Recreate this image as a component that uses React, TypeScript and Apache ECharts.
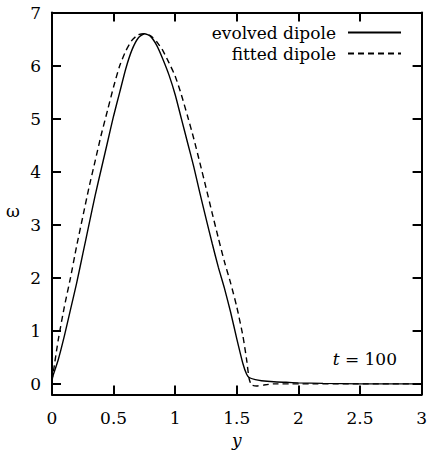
import React, { useEffect, useRef } from "react";
import * as echarts from "echarts";

const xTicks = [0, 0.5, 1, 1.5, 2, 2.5, 3];
const yTicks = [0, 1, 2, 3, 4, 5, 6, 7];

const evolvedX = [0, 0.05, 0.1, 0.15, 0.2, 0.25, 0.3, 0.35, 0.4, 0.45, 0.5, 0.55, 0.6, 0.65, 0.7, 0.75, 0.8, 0.85, 0.9, 0.95, 1.0, 1.05, 1.1, 1.15, 1.2, 1.25, 1.3, 1.35, 1.4, 1.45, 1.5, 1.55, 1.58, 1.6, 1.65, 1.7, 1.8, 1.9, 2.0, 2.2, 2.5, 3.0];
const evolvedW = [0.1, 0.45, 0.9, 1.4, 1.9, 2.45, 3.0, 3.55, 4.05, 4.55, 5.05, 5.5, 5.95, 6.3, 6.52, 6.6, 6.55, 6.38, 6.12, 5.82, 5.45, 5.0, 4.55, 4.1, 3.6, 3.12, 2.65, 2.2, 1.8, 1.35, 0.85, 0.38, 0.18, 0.12, 0.08, 0.06, 0.04, 0.03, 0.02, 0.01, 0.0, 0.0];

const fittedX = [0, 0.05, 0.1, 0.15, 0.2, 0.25, 0.3, 0.35, 0.4, 0.45, 0.5, 0.55, 0.6, 0.65, 0.7, 0.75, 0.8, 0.85, 0.9, 0.95, 1.0, 1.05, 1.1, 1.15, 1.2, 1.25, 1.3, 1.35, 1.4, 1.45, 1.5, 1.55, 1.58, 1.6, 1.62, 1.66, 1.72, 1.8, 3.0];
const fittedW = [0.05, 0.82, 1.45, 2.0, 2.6, 3.15, 3.7, 4.2, 4.7, 5.15, 5.6, 6.0, 6.28, 6.48, 6.58, 6.6, 6.56, 6.45, 6.28, 6.05, 5.8, 5.45, 5.05, 4.63, 4.17, 3.7, 3.22, 2.75, 2.3, 1.9, 1.45, 0.9, 0.45, 0.1, -0.02, -0.04, -0.02, 0.0, 0.0];

const FONT = "DejaVu Serif";

export default function App() {
  const ref = useRef<HTMLDivElement>(null);
  useEffect(() => {
    if (!ref.current) return;
    const chart = echarts.init(ref.current, null, { renderer: "svg" });
    const axisLine = { show: true, onZero: false, lineStyle: { color: "#000", width: 2 } };
    const tick = { inside: true, length: 9, lineStyle: { color: "#000", width: 2 } };
    const label = { fontFamily: FONT, fontSize: 17, color: "#000" };
    const option: any = {
      animation: false,
      backgroundColor: "#fff",
      grid: { left: 52, right: 6, top: 12.5, bottom: 63.5 },
      legend: {
        data: ["evolved dipole", "fitted dipole"],
        orient: "vertical",
        right: 23,
        top: 19,
        align: "right",
        itemWidth: 53,
        itemHeight: 12,
        itemGap: 4,
        itemStyle: { opacity: 0 },
        textStyle: { ...label, padding: [0, 7, 0, 0] },
      },
      xAxis: [
        {
          type: "value", min: 0, max: 3, interval: 0.5, position: "bottom",
          axisLine, axisTick: tick, splitLine: { show: false },
          axisLabel: { ...label, margin: 15, customValues: xTicks },
          name: "y", nameLocation: "middle", nameGap: 37,
          nameTextStyle: { ...label, fontStyle: "italic" },
        },
        {
          type: "value", min: 0, max: 3, interval: 0.5, position: "top",
          axisLine, axisTick: tick, splitLine: { show: false },
          axisLabel: { show: false },
        },
      ],
      yAxis: [
        {
          type: "value", min: -0.2, max: 7, position: "left",
          axisLine, axisTick: { ...tick, customValues: yTicks }, splitLine: { show: false },
          axisLabel: { ...label, margin: 11, customValues: yTicks },
        },
        {
          type: "value", min: -0.2, max: 7, position: "right",
          axisLine, axisTick: { ...tick, customValues: yTicks }, splitLine: { show: false },
          axisLabel: { show: false },
        },
      ],
      graphic: [
        {
          type: "text", left: 6, top: 202,
          style: { text: "ω", fontFamily: FONT, fontSize: 17, fill: "#000" },
        },
        {
          type: "text", right: 33, top: 350,
          style: {
            text: "{i|t} = 100",
            fontFamily: FONT, fontSize: 17, fill: "#000",
            rich: { i: { fontStyle: "italic", fontFamily: FONT, fontSize: 17 } },
          },
        },
      ],
      series: [
        {
          name: "evolved dipole", type: "line", xAxisIndex: 0, yAxisIndex: 0,
          data: evolvedX.map((x, i) => [x, evolvedW[i]]),
          showSymbol: false, symbol: "none", smooth: 0.2,
          lineStyle: { color: "#000", width: 1.4, type: "solid" },
          itemStyle: { color: "#000" },
        },
        {
          name: "fitted dipole", type: "line", xAxisIndex: 0, yAxisIndex: 0,
          data: fittedX.map((x, i) => [x, fittedW[i]]),
          showSymbol: false, symbol: "none", smooth: 0.2,
          lineStyle: { color: "#000", width: 1.4, type: [6, 4] },
          itemStyle: { color: "#000" },
        },
      ],
    };
    chart.setOption(option);
    return () => chart.dispose();
  }, []);
  return (
    <div
      ref={ref}
      style={{ position: "absolute", left: 0, top: 0, width: 430, height: 458 }}
    />
  );
}
